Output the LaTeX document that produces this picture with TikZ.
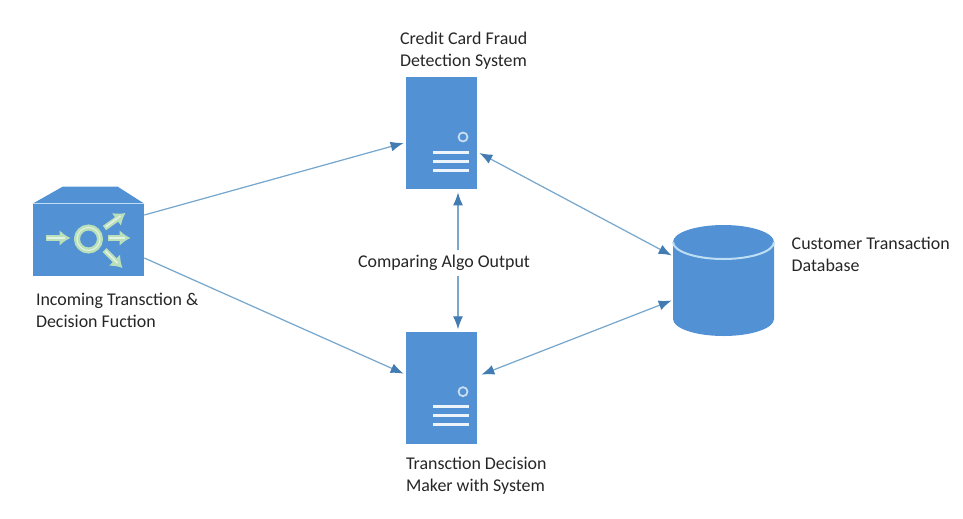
\documentclass[tikz,border=0pt]{standalone}
\usepackage{fontspec}
\setmainfont{Carlito}
\usepackage{xcolor}
\usetikzlibrary{arrows.meta, positioning}
\definecolor{boxblue}{RGB}{82,146,212}
\definecolor{linkblue}{RGB}{120,168,205}
\definecolor{tipblue}{RGB}{66,124,178}
\definecolor{palegreen}{RGB}{186,224,186}
\definecolor{paleline}{RGB}{190,222,245}

% face of a server box
\newcommand{\serverface}[1]{
  \begin{scope}[shift={(#1.center)}]
    \draw[white!70!boxblue, line width=0.035cm] (21.5,4) circle (4.5);
    \foreach \y in {19,28,37}
      \draw[bar] (-8.5,\y) -- (27.5,\y);
  \end{scope}
}

\begin{document}
\begin{tikzpicture}[
    x=0.02cm, y=-0.02cm,
    server/.style={fill=boxblue, minimum width=1.42cm, minimum height=2.24cm, inner sep=0pt},
    bar/.style={white!90!boxblue, line width=0.06cm},
    hub/.style={fill=boxblue, minimum width=2.22cm, minimum height=1.44cm, inner sep=0pt},
    store/.style={minimum width=2.02cm, minimum height=2.22cm, inner sep=0pt},
    lbl/.style={font=\fontsize{10.2}{12.5}\selectfont, align=left, inner sep=0pt, text=black!85},
    arr/.style={{Latex[length=0.26cm,width=0.2cm,color=tipblue]}-{Latex[length=0.26cm,width=0.2cm,color=tipblue]},
                draw=linkblue, line width=0.025cm},
    oneway/.style={-{Latex[length=0.26cm,width=0.2cm,color=tipblue]}, draw=linkblue, line width=0.025cm},
    flow/.style={-{Latex[length=0.22cm,width=0.32cm]}, palegreen, line width=0.11cm},
    flowcore/.style={white!60!palegreen, line width=0.03cm},
]
  \useasboundingbox (0,0) rectangle (963,518);

  \node[server] (fraud) at (441.5,133) {};
  \node[server, below=2.84cm of fraud] (decision) {};
  \node[hub] (switch) at (88.5,240) {};
  \node[store] (db) at (723.5,280.5) {};

  \serverface{fraud}
  \serverface{decision}

  % hub roof and icon
  \fill[boxblue] (switch.north west) -- ++(30,-17) -- ++(55,0) -- (switch.north east) -- cycle;
  \draw[paleline, line width=0.025cm] (switch.north west) -- (switch.north east);
  \begin{scope}[shift={(switch.center)}]
    \draw[palegreen, line width=0.12cm] (0,-1) circle (11.5);
    \draw[white!60!palegreen, line width=0.02cm] (0,-1) circle (11.5);
    \draw[flow] (-43,-2) -- (-18,-2);
    \draw[flow] (19,-2) -- (42,-2);
    \draw[flow] (16,-12) -- (37,-27);
    \draw[flow] (16,10) -- (34,28);
    \draw[flowcore] (-42,-2) -- (-24,-2);
    \draw[flowcore] (20,-2) -- (36,-2);
    \draw[flowcore] (17,-13) -- (32,-24);
    \draw[flowcore] (17,11) -- (29,23);
  \end{scope}

  % database drum
  \begin{scope}[shift={(db.center)}]
    \fill[boxblue] (-50.5,-38.5) arc[start angle=180, end angle=360, x radius=50.5, y radius=17]
      -- (50.5,38.5) arc[start angle=0, end angle=180, x radius=50.5, y radius=17] -- cycle;
    \draw[paleline, line width=0.04cm] (-50.5,-38.5) arc[start angle=180, end angle=0, x radius=50.5, y radius=17];
  \end{scope}

  \node[lbl, above right=0.14cm and -0.12cm of fraud.north west] (fraudlbl) {Credit Card Fraud\\Detection System};
  \node[lbl, below right=0.26cm and 0cm of decision.south west] (decisionlbl) {Transction Decision\\Maker with System};
  \node[lbl, below right=0.33cm and 0.06cm of switch.south west] (switchlbl) {Incoming Transction \&\\Decision Fuction};
  \node[lbl, right=0.34cm of db.east, yshift=0.52cm] (dblbl) {Customer Transaction\\Database};

  \draw[oneway] ([yshift=0.5cm]switch.east) -- ([xshift=-0.04cm,yshift=-0.2cm]fraud.west);
  \draw[oneway] ([yshift=-0.36cm]switch.east) -- ([xshift=-0.04cm,yshift=0.28cm]decision.west);
  \draw[arr] ([xshift=0.04cm,yshift=-0.4cm]fraud.east) -- ([xshift=-0.02cm,yshift=0.5cm]db.west);
  \draw[arr] ([xshift=0.08cm,yshift=0.26cm]decision.east) -- ([xshift=-0.02cm,yshift=-0.4cm]db.west);
  \draw[arr] ([xshift=0.33cm,yshift=-0.06cm]fraud.south) -- node[lbl, fill=white, inner xsep=1pt, inner ysep=3pt, xshift=-0.28cm, yshift=-0.04cm] (algolbl) {Comparing Algo Output} ([xshift=0.33cm,yshift=0.04cm]decision.north);
\end{tikzpicture}
\end{document}
